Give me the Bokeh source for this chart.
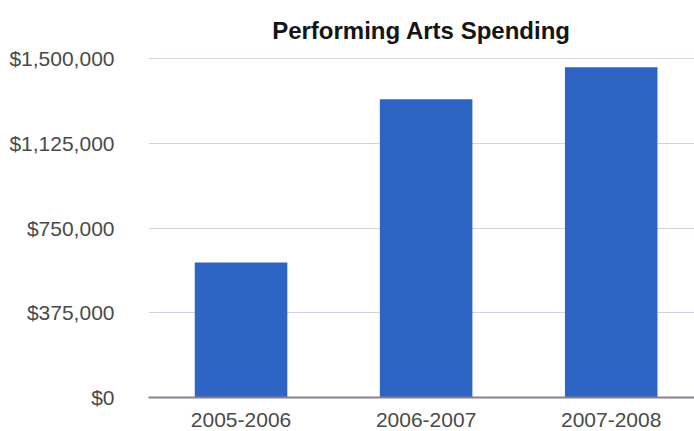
from bokeh.plotting import figure
from bokeh.models import Range1d, FixedTicker, NumeralTickFormatter, ColumnDataSource
from bokeh.embed import file_html
from bokeh.resources import INLINE

chart_title = "Performing Arts Spending"
seasons = ["2005-2006", "2006-2007", "2007-2008"]
spending = [598000, 1320000, 1462000]
y_ticks = [0, 375000, 750000, 1125000, 1500000]

xs = list(range(len(seasons)))
src = ColumnDataSource(dict(x=xs, top=spending))

p = figure(width=694, height=431, output_backend="svg", toolbar_location=None,
           x_range=Range1d(-0.5, 2.45), y_range=Range1d(0, 1505000),
           min_border_left=148, min_border_right=0, min_border_top=57,
           min_border_bottom=34, title=chart_title)

p.vbar(x="x", top="top", width=0.5, source=src, fill_color="#2e64c4",
       line_color=None)

p.title.align = "center"
p.title.vertical_align = "bottom"
p.title.text_font = "Liberation Sans"
p.title.text_font_size = "24px"
p.title.text_font_style = "bold"
p.title.text_color = "#151515"
p.title.standoff = 28

p.outline_line_color = None
p.background_fill_color = "white"
p.border_fill_color = "white"

p.xaxis.ticker = FixedTicker(ticks=xs)
p.xaxis.major_label_overrides = {i: s for i, s in enumerate(seasons)}
p.xaxis.major_tick_line_color = None
p.xaxis.minor_tick_line_color = None
p.xaxis.axis_line_color = "#8a8090"
p.xaxis.axis_line_width = 2
p.xaxis.major_label_text_font = "Liberation Sans"
p.xaxis.major_label_text_font_size = "21px"
p.xaxis.major_label_text_color = "#4a4a4a"
p.xaxis.major_label_standoff = 9

p.yaxis.ticker = FixedTicker(ticks=y_ticks)
p.yaxis.formatter = NumeralTickFormatter(format="$0,0")
p.yaxis.major_tick_line_color = None
p.yaxis.minor_tick_line_color = None
p.yaxis.axis_line_color = None
p.yaxis.major_label_text_font = "Liberation Sans"
p.yaxis.major_label_text_font_size = "21px"
p.yaxis.major_label_text_color = "#4a4a4a"
p.yaxis.major_label_standoff = 28

p.xgrid.grid_line_color = None
p.ygrid.grid_line_color = "#d6d0e2"
p.ygrid.grid_line_width = 1

open("out.html", "w").write(file_html(p, INLINE))
